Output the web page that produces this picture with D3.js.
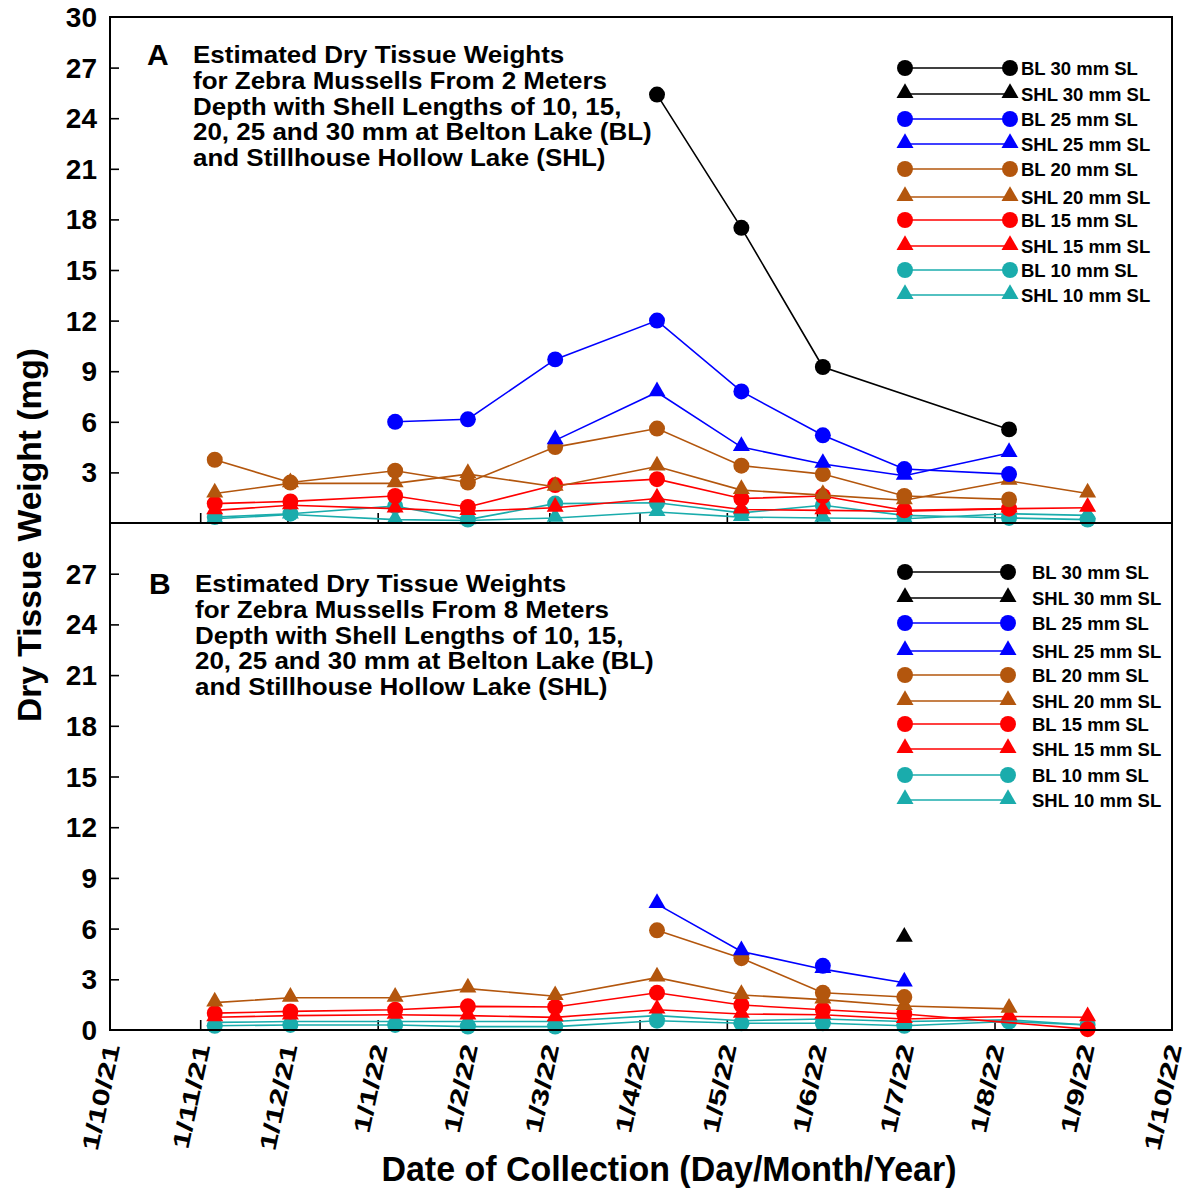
<!DOCTYPE html>
<html><head><meta charset="utf-8">
<script src="https://cdn.jsdelivr.net/npm/d3@7"></script>
<style>body{margin:0;background:#fff}svg{display:block;font-family:"Liberation Sans",Arial,sans-serif;font-weight:bold}</style>
</head><body><svg id="c" width="1192" height="1188"></svg>
<script>
// ---- data ----
const collectionDates = ["2021-11-06","2021-12-02","2022-01-07","2022-02-01","2022-03-03","2022-04-07","2022-05-06","2022-06-03","2022-07-01","2022-08-06","2022-09-02"];
const monthTicks = ["2021-10-01","2021-11-01","2021-12-01","2022-01-01","2022-02-01","2022-03-01","2022-04-01","2022-05-01","2022-06-01","2022-07-01","2022-08-01","2022-09-01","2022-10-01"];
const monthTickLabels = ["1/10/21","1/11/21","1/12/21","1/1/22","1/2/22","1/3/22","1/4/22","1/5/22","1/6/22","1/7/22","1/8/22","1/9/22","1/10/22"];
const yTicks = [0,3,6,9,12,15,18,21,24,27,30];
const seriesNames = ["BL 30 mm SL","SHL 30 mm SL","BL 25 mm SL","SHL 25 mm SL","BL 20 mm SL","SHL 20 mm SL","BL 15 mm SL","SHL 15 mm SL","BL 10 mm SL","SHL 10 mm SL"];
const seriesColors = ["#000000","#000000","#0000ff","#0000ff","#b3560d","#b3560d","#ff0000","#ff0000","#1aacac","#1aacac"];
const seriesShapes = ["circle","triangle","circle","triangle","circle","triangle","circle","triangle","circle","triangle"];
// Panel A: 2 m depth
const A_BL30  = [null,null,null,null,null,25.4,17.5,9.25,null,5.55,null];
const A_SHL30 = [null,null,null,null,null,null,null,null,null,null,null];
const A_BL25  = [null,null,6.0,6.15,9.7,12.0,7.8,5.2,3.2,2.9,null];
const A_SHL25 = [null,null,null,null,4.9,7.75,4.5,3.5,2.8,4.15,null];
const A_BL20  = [3.75,2.4,3.1,2.4,4.5,5.6,3.4,2.9,1.6,1.4,null];
const A_SHL20 = [1.75,2.35,2.35,2.9,2.15,3.35,1.95,1.65,1.35,2.5,1.75];
const A_BL15  = [1.15,1.28,1.6,0.95,2.25,2.6,1.45,1.6,0.75,0.85,null];
const A_SHL15 = [0.75,1.05,0.85,0.7,0.9,1.45,0.8,0.75,0.7,0.85,0.9];
const A_BL10  = [0.35,0.55,1.0,0.2,1.15,1.2,0.6,1.05,0.45,0.3,0.2];
const A_SHL10 = [0.25,0.5,0.2,0.15,0.3,0.65,0.35,0.3,0.25,0.55,0.45];
// Panel B: 8 m depth
const B_BL30  = [null,null,null,null,null,null,null,null,null,null,null];
const B_SHL30 = [null,null,null,null,null,null,null,null,5.45,null,null];
const B_BL25  = [null,null,null,null,null,null,null,3.8,null,null,null];
const B_SHL25 = [null,null,null,null,null,7.45,4.65,3.6,2.8,null,null];
const B_BL20  = [null,null,null,null,null,5.9,4.25,2.2,1.95,null,null];
const B_SHL20 = [1.62,1.91,1.91,2.45,2.0,3.1,2.07,1.8,1.42,1.25,null];
const B_BL15  = [1.0,1.1,1.2,1.4,1.36,2.2,1.48,1.2,0.95,null,0.05];
const B_SHL15 = [0.75,0.85,0.9,0.85,0.75,1.2,0.95,0.9,0.65,0.8,0.75];
const B_BL10  = [0.25,0.3,0.3,0.2,0.2,0.55,0.4,0.4,0.25,0.5,0.3];
const B_SHL10 = [0.45,0.5,0.5,0.5,0.5,0.85,0.55,0.65,0.5,0.6,0.3];

const panelAText = ["Estimated Dry Tissue Weights","for Zebra Mussells From 2 Meters","Depth with Shell Lengths of 10, 15,","20, 25 and 30 mm at Belton Lake (BL)","and Stillhouse Hollow Lake (SHL)"];
const panelBText = ["Estimated Dry Tissue Weights","for Zebra Mussells From 8 Meters","Depth with Shell Lengths of 10, 15,","20, 25 and 30 mm at Belton Lake (BL)","and Stillhouse Hollow Lake (SHL)"];

const panelA = [A_BL30,A_SHL30,A_BL25,A_SHL25,A_BL20,A_SHL20,A_BL15,A_SHL15,A_BL10,A_SHL10];
const panelB = [B_BL30,B_SHL30,B_BL25,B_SHL25,B_BL20,B_SHL20,B_BL15,B_SHL15,B_BL10,B_SHL10];

// ---- drawing ----
const svg = d3.select("#c");
const parse = d3.timeParse("%Y-%m-%d");
const L = 110, R = 1172;
const x = d3.scaleTime().domain([parse(monthTicks[0]), parse(monthTicks[monthTicks.length-1])]).range([L, R]);
const yA = d3.scaleLinear().domain([0,30]).range([523,17]);
const yB = d3.scaleLinear().domain([0,30]).range([1030,523]);

const circleSym = d3.symbol().type(d3.symbolCircle).size(200);
const triSym = d3.symbol().type(d3.symbolTriangle).size(125);

function drawPanel(data, y, letter, textLines, tx, ty, legend) {
  const g = svg.append("g");
  g.append("g").attr("transform",`translate(${L},0)`)
    .call(d3.axisRight(y).tickValues(yTicks.filter(v=>v>0&&v<30)).tickSize(9).tickFormat(""))
    .call(s=>s.select(".domain").remove())
    .selectAll("line").attr("stroke","#000").attr("stroke-width",1.6);
  g.append("g").attr("transform",`translate(0,${y(0)})`)
    .call(d3.axisTop(x).tickValues(monthTicks.map(parse).slice(1,-1)).tickSize(10).tickFormat(""))
    .call(s=>s.select(".domain").remove())
    .selectAll("line").attr("stroke","#000").attr("stroke-width",1.6);

  const dates = collectionDates.map(parse);
  for (let i = data.length - 1; i >= 0; i--) {
    const pts = data[i].map((v,j)=>({d:dates[j],v})).filter(p=>p.v!=null);
    if (!pts.length) continue;
    g.append("path").datum(pts)
      .attr("d", d3.line().x(p=>x(p.d)).y(p=>y(p.v)))
      .attr("fill","none").attr("stroke",seriesColors[i]).attr("stroke-width",1.6);
    g.selectAll(null).data(pts).join("path")
      .attr("transform", p=>`translate(${x(p.d)},${y(p.v) + (seriesShapes[i]==="triangle"? -1:0)})`)
      .attr("d", seriesShapes[i]==="circle" ? circleSym() : triSym())
      .attr("fill", seriesColors[i]);
  }
  g.append("text").attr("x",tx-46).attr("y",ty+2).attr("font-size",30).text(letter);
  g.append("g").attr("transform",`translate(${tx},${ty}) scale(1.06,1)`)
    .selectAll("text").data(textLines).join("text")
    .attr("x",0).attr("y",(d,i)=>i*25.8).attr("font-size",24.5).text(d=>d);
  const lg = g.append("g");
  seriesNames.forEach((name,i)=>{
    const yy = legend.ys[i];
    lg.append("line").attr("x1",legend.x1).attr("x2",legend.x2).attr("y1",yy).attr("y2",yy)
      .attr("stroke",seriesColors[i]).attr("stroke-width",1.6);
    [legend.x1,legend.x2].forEach(xx=>{
      lg.append("path").attr("transform",`translate(${xx},${yy + (seriesShapes[i]==="triangle"? -1:0)})`)
        .attr("d", seriesShapes[i]==="circle" ? circleSym() : triSym()).attr("fill",seriesColors[i]);
    });
    lg.append("text").attr("x",legend.tx).attr("y",yy+6.5).attr("font-size",18.5).text(name);
  });
}

drawPanel(panelA, yA, "A", panelAText, 193, 63,
  {x1:905, x2:1010, tx:1021, ys:[68,94,119,144,169,197,220,246,270,295]});
drawPanel(panelB, yB, "B", panelBText, 195, 592,
  {x1:905, x2:1008, tx:1032, ys:[572,598,623,651,675,701,724,749,775,800]});

// frame
svg.append("rect").attr("x",L).attr("y",17).attr("width",R-L).attr("height",1030-17)
  .attr("fill","none").attr("stroke","#000").attr("stroke-width",2);
svg.append("line").attr("x1",L).attr("x2",R).attr("y1",523).attr("y2",523).attr("stroke","#000").attr("stroke-width",2);

// y tick labels
const yl = svg.append("g").attr("font-size",28).attr("text-anchor","end");
yTicks.filter(v=>v>0).forEach(v=>yl.append("text").attr("x",97).attr("y",yA(v)+10).text(v));
yTicks.filter(v=>v<30).forEach(v=>yl.append("text").attr("x",97).attr("y",yB(v)+10).text(v));

// x tick labels (rotated, stretched along reading direction)
const xl = svg.append("g").attr("font-size",23.5).attr("text-anchor","end");
monthTicks.forEach((t,i)=>{
  const px = x(parse(t));
  xl.append("text").attr("transform",`translate(${px+10},1046) rotate(-78) scale(1.38,1)`).text(monthTickLabels[i]);
});

// axis titles
svg.append("text").attr("x",669).attr("y",1181).attr("text-anchor","middle").attr("font-size",35)
  .attr("textLength",575).attr("lengthAdjust","spacingAndGlyphs").text("Date of Collection (Day/Month/Year)");
svg.append("text").attr("transform","translate(41,535) rotate(-90)").attr("text-anchor","middle").attr("font-size",34)
  .attr("textLength",374).attr("lengthAdjust","spacingAndGlyphs").text("Dry Tissue Weight (mg)");
</script></body></html>
